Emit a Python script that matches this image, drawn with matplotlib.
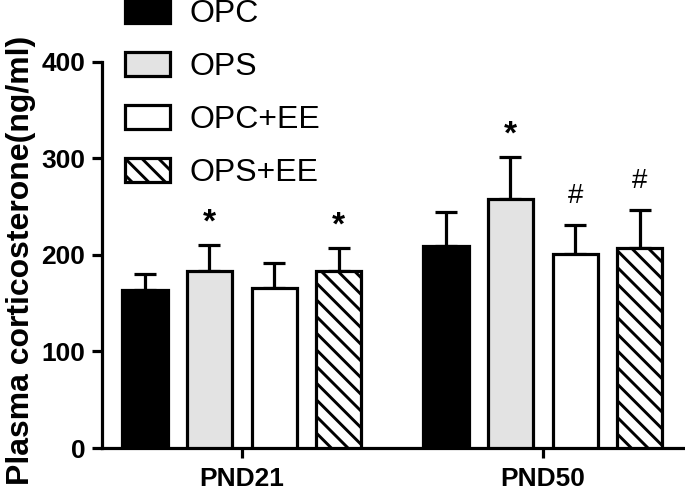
import numpy as np
import matplotlib
matplotlib.use("Agg")
import matplotlib.pyplot as plt

plt.rcParams['font.family'] = ['Liberation Sans', 'DejaVu Sans']
plt.rcParams['hatch.linewidth'] = 2.1

# Data
groups = ['PND21', 'PND50']
series = ['OPC', 'OPS', 'OPC+EE', 'OPS+EE']
means = [
    [164, 209],   # OPC
    [183, 258],   # OPS
    [166, 201],   # OPC+EE
    [183, 207],   # OPS+EE
]
errs = [
    [16, 35],
    [27, 43],
    [26, 30],
    [24, 39],
]
marks = [
    ['', ''],
    ['*', '*'],
    ['', '#'],
    ['*', '#'],
]

# Styles
faces = ['black', '#e3e3e3', 'white', 'white']
hatches = [None, None, None, '\\\\']
offsets = [-0.322, -0.108, 0.107, 0.321]
width = 0.15
mark_size = {'*': 24, '#': 20}
mark_weight = {'*': 'bold', '#': 'normal'}
mark_pad = {'*': 10, '#': 16}

fig = plt.figure(figsize=(6.85, 4.92), dpi=100)
ax = fig.add_axes([102 / 685, 1 - 448 / 492, 583 / 685, (448 - 61.7) / 492])

x = np.arange(len(groups))
for i, name in enumerate(series):
    ax.bar(x + offsets[i], means[i], width, color=faces[i], edgecolor='black',
           linewidth=2.3, hatch=hatches[i], label=name, zorder=3)
    ax.errorbar(x + offsets[i], means[i], yerr=[np.zeros(len(groups)), errs[i]],
                fmt='none', ecolor='black', elinewidth=2.3, capsize=8, capthick=2.3,
                zorder=2)
    for j in range(len(groups)):
        m = marks[i][j]
        if m:
            ax.annotate(m, (x[j] + offsets[i], means[i][j] + errs[i][j]),
                        xytext=(0, mark_pad[m]), textcoords='offset points',
                        ha='center', va='baseline', fontsize=mark_size[m],
                        fontweight=mark_weight[m])

ax.set_ylim(0, 400)
ax.set_xlim(-0.465, 1.472)
ax.set_yticks([0, 100, 200, 300, 400])
ax.set_xticks(x)
ax.set_xticklabels(groups)
for sp in ['top', 'right']:
    ax.spines[sp].set_visible(False)
for sp in ['left', 'bottom']:
    ax.spines[sp].set_linewidth(2.3)
ax.tick_params(axis='y', width=2.3, length=7, pad=5, labelsize=19)
ax.tick_params(axis='x', width=2.3, length=7, pad=6.5, labelsize=19)
for lab in ax.get_xticklabels() + ax.get_yticklabels():
    lab.set_fontweight('bold')

ax.set_ylabel('Plasma corticosterone(ng/ml)', fontsize=23, fontweight='bold')
ax.yaxis.set_label_coords(-0.113, 0.485)

fig.legend(loc='upper left', bbox_to_anchor=(125 / 685, 1.002), frameon=False,
           fontsize=23, handlelength=1.41, handleheight=0.75, handletextpad=0.62,
           labelspacing=0.72, borderpad=0, borderaxespad=0)

fig.savefig('out.png', dpi=100)
